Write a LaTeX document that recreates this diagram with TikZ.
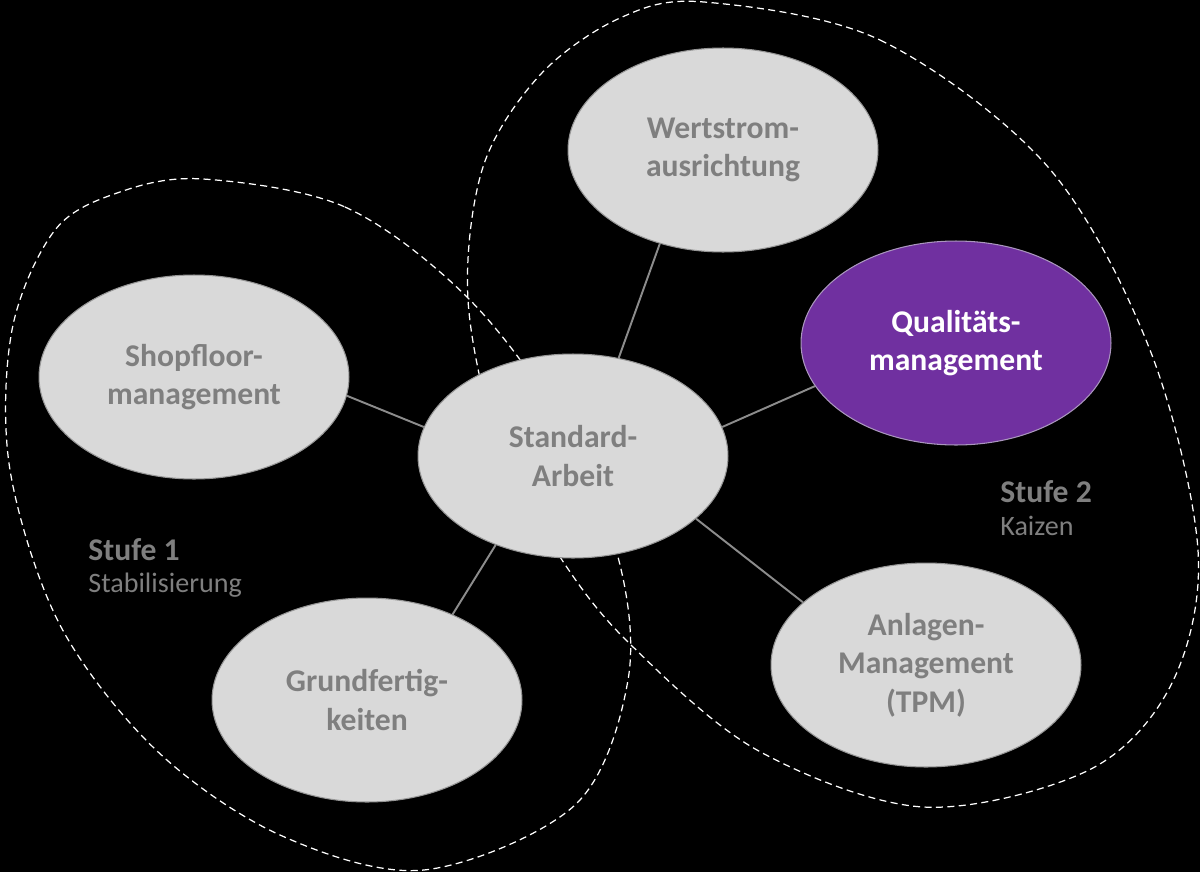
\documentclass[tikz,border=0pt]{standalone}
\usepackage{fontspec}
\setmainfont{Carlito}
\usetikzlibrary{shapes.geometric,backgrounds}
\definecolor{bubblefill}{RGB}{217,217,217}
\definecolor{bubbletext}{RGB}{127,127,127}
\definecolor{bubbleedge}{RGB}{150,150,150}
\definecolor{purplefill}{RGB}{112,48,160}
\definecolor{purpleedge}{RGB}{170,150,190}
\definecolor{linkclr}{RGB}{140,140,140}
\definecolor{labelclr}{RGB}{127,127,127}
\begin{document}
\begin{tikzpicture}[x=0.02cm,y=-0.02cm,
  bubble/.style={ellipse, minimum width=6.2cm, minimum height=4.08cm, inner sep=0pt,
    fill=bubblefill, draw=bubbleedge, line width=0.6pt, text=bubbletext, align=center,
    font=\fontsize{18}{22}\selectfont\bfseries},
  hot/.style={bubble, fill=purplefill, draw=purpleedge, text=white},
  link/.style={draw=linkclr, line width=1.1pt},
  zone/.style={draw=white, line width=0.7pt, dash pattern=on 4pt off 2.5pt},
  stufe/.style={anchor=base west, text=labelclr, inner sep=0pt, font=\fontsize{18}{22}\selectfont\bfseries},
  stufesub/.style={anchor=base west, text=labelclr, inner sep=0pt, font=\fontsize{16}{20}\selectfont}]
\useasboundingbox (0,0) rectangle (1200,872);
% nodes
\node[bubble] (shop) at (194,377) {Shopfloor-\\management};
\node[bubble] (wert) at (723,150) {Wertstrom-\\ausrichtung};
\node[hot] (qual) at (956,343) {Qualitäts-\\management};
\node[bubble] (std) at (573,456) {Standard-\\Arbeit};
\node[bubble] (grund) at (367,700) {Grundfertig-\\keiten};
\node[bubble] (anl) at (926,665) {Anlagen-\\Management\\(TPM)};
% labels
\node[stufe] (s1) at (88,560) {Stufe 1};
\node[stufesub] (s1b) at (88,592) {Stabilisierung};
\node[stufe] (s2) at (1000,502) {Stufe 2};
\node[stufesub] (s2b) at (1000,535) {Kaizen};
\begin{scope}[on background layer]
\fill[black] (0,0) rectangle (1200,872);
% zones
\draw[zone] plot[smooth cycle, tension=0.55] coordinates {(203,179) (345,207) (467,297) (560,420) (618,557) (628,680) (575,805) (424,870) (280,835) (156,750) (60,625) (10,470) (12,330) (55,230) (120,192)};
\draw[zone] plot[smooth cycle, tension=0.55] coordinates {(704,2) (880,40) (1048,167) (1150,350) (1198,550) (1172,683) (1089,770) (923,807) (757,750) (629,643) (562,560) (500,450) (468,300) (483,167) (540,75) (620,18)};
% links
\draw[link] (std.169) -- (shop.-7);
\draw[link] (std.65) -- (wert.-124);
\draw[link] (std.11) -- (qual.197);
\draw[link] (std.-131) -- (grund.45);
\draw[link] (std.-27) -- (anl.153);
\end{scope}
\end{tikzpicture}
\end{document}
